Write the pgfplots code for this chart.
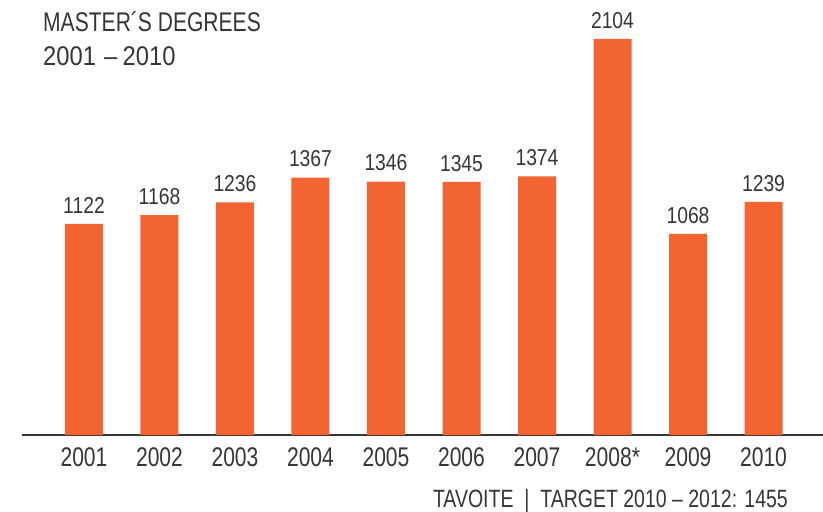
\documentclass[border=0pt]{standalone}
\usepackage{pgfplots}
\pgfplotsset{compat=1.18}
\usepackage{fontspec}
\setmainfont{Liberation Sans}[FakeStretch=0.78]
\newfontfamily\valfont{Liberation Sans}[FakeStretch=0.84]
\newfontfamily\digfont{Liberation Sans}[FakeStretch=0.88]
\definecolor{barorange}{HTML}{F26532}
\definecolor{txtgray}{HTML}{363636}
\begin{document}
\begin{tikzpicture}
\begin{axis}[
  at={(0,0)}, anchor=south west,
  scale only axis,
  width=801pt, height=435pt,
  xmin=-0.821, xmax=9.788,
  ymin=0, ymax=2311,
  axis y line=none,
  axis x line*=bottom,
  x axis line style={draw=txtgray, line width=1.2pt, -},
  xtick=data,
  xticklabels={2001,2002,2003,2004,2005,2006,2007,2008*,2009,2010},
  major tick length=0pt,
  xticklabel style={font=\fontsize{27}{31}\selectfont, text=txtgray, yshift=-9pt},
  /pgf/number format/assume math mode=true,
  /pgf/number format/1000 sep={},
  ybar, bar width=38pt,
  nodes near coords,
  every node near coord/.append style={font=\valfont\fontsize{23}{27}\selectfont, text=txtgray, yshift=7pt},
  clip=false,
]
\addplot[fill=barorange, draw=none] coordinates {
(0,1122) (1,1168) (2,1236) (3,1367) (4,1346) (5,1345) (6,1374) (7,2104) (8,1068) (9,1239)};
\end{axis}
\node[anchor=base west, text=txtgray, font=\fontsize{27}{31}\selectfont, inner sep=0pt] at (21pt,403pt) {MASTER´S DEGREES};
\node[anchor=base west, text=txtgray, font=\digfont\fontsize{27}{31}\selectfont, inner sep=0pt] at (21pt,369pt) {2001\hspace{0.3em}–\hspace{0.2em}2010};
\node[anchor=base east, text=txtgray, font=\fontsize{25}{29}\selectfont, inner sep=0pt] at (766pt,-72pt) {TAVOITE \ | \ TARGET 2010 – 2012: 1455};
\pgfresetboundingbox
\path[use as bounding box] (-22pt,-77pt) rectangle (801pt,435pt);
\end{tikzpicture}
\end{document}
